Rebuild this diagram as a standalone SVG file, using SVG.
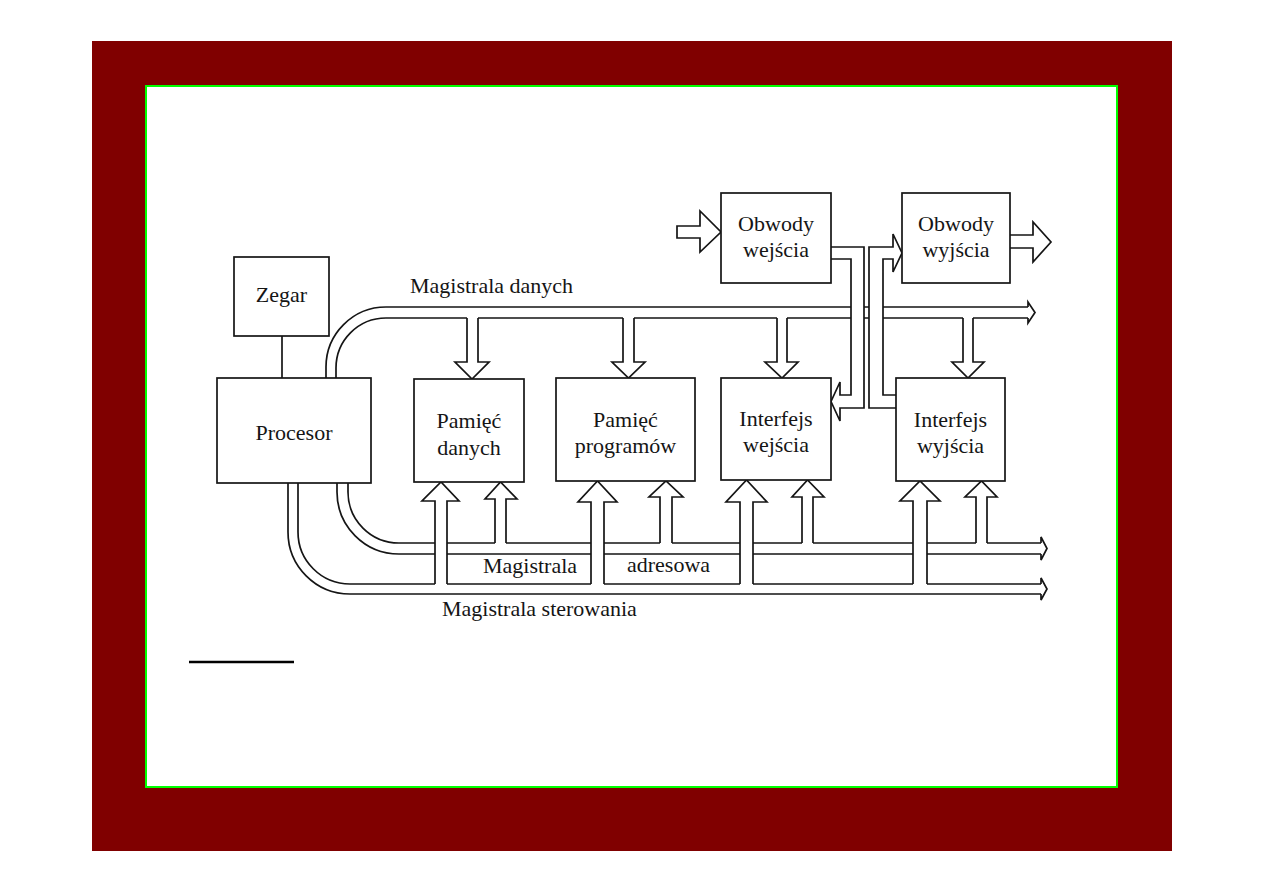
<svg xmlns="http://www.w3.org/2000/svg" width="1263" height="893" viewBox="0 0 1263 893">
<style>
.ln{fill:none;stroke:#151515;stroke-width:1.7;stroke-linejoin:miter}
.bx{fill:#fff;stroke:#151515;stroke-width:1.7}
.t{font-family:"Liberation Serif","Times New Roman",serif;font-size:22px;fill:#151515;text-anchor:middle}
.tl{font-family:"Liberation Serif","Times New Roman",serif;font-size:22px;fill:#151515}
</style>
<rect x="0" y="0" width="1263" height="893" fill="#fff"/>
<rect x="92" y="41" width="1080" height="810" fill="#800000"/>
<rect x="146" y="86" width="971" height="701" fill="#fff" stroke="#00ff00" stroke-width="2"/>
<line x1="189" y1="662" x2="294" y2="662" stroke="#000" stroke-width="2.5"/>

<g id="connectors">
  <!-- Zegar to Procesor -->
  <path class="ln" d="M282,336 L282,378"/>
  <!-- data bus -->
  <path class="ln" d="M326,378 L326,367 A60,60 0 0 1 386,307 L851,307 M864,307 L869,307 M883,307 L1028,307"/>
  <path class="ln" d="M336,378 L336,368 A50,50 0 0 1 386,318 L467,318 M478,318 L623,318 M634,318 L777,318 M787,318 L851,318 M864,318 L869,318 M883,318 L963,318 M973,318 L1028,318"/>
  <path class="ln" d="M1028,307 L1028,302 L1035,312.5 L1028,323 L1028,318"/>
  <!-- data bus drops -->
  <path class="ln" d="M467,318 L467,362 L455,362 L472,379 L489,362 L478,362 L478,318"/>
  <path class="ln" d="M623,318 L623,362 L612,362 L628.5,378 L645,362 L634,362 L634,318"/>
  <path class="ln" d="M777,318 L777,362 L765,362 L782,378 L798,362 L787,362 L787,318"/>
  <path class="ln" d="M963,318 L963,362 L952,362 L968,378 L984,362 L973,362 L973,318"/>
  <!-- bus A (from Procesor inner pipe) -->
  <path class="ln" d="M337,483 L337,492 A62,62 0 0 0 399,554 L435,554 M447,554 L591,554 M604,554 L740,554 M753,554 L913,554 M927,554 L1041,554"/>
  <path class="ln" d="M348,483 L348,492 A51,51 0 0 0 399,543 L435,543 M447,543 L495,543 M506,543 L591,543 M604,543 L660,543 M672,543 L740,543 M753,543 L802,543 M813,543 L913,543 M927,543 L976,543 M987,543 L1041,543"/>
  <path class="ln" d="M1041,543 L1041,537 L1047,548.5 L1041,560 L1041,554"/>
  <!-- bus B (from Procesor outer pipe) -->
  <path class="ln" d="M288,483 L288,532 A62,62 0 0 0 350,594 L1041,594"/>
  <path class="ln" d="M298,483 L298,532 A52,52 0 0 0 350,584 L435,584 M447,584 L591,584 M604,584 L740,584 M753,584 L913,584 M927,584 L1041,584"/>
  <path class="ln" d="M1041,584 L1041,578 L1047,589 L1041,600 L1041,594"/>
  <!-- big up arrows from bus B -->
  <path class="ln" d="M435,584 L435,501 L422,501 L441,482 L459,501 L447,501 L447,584"/>
  <path class="ln" d="M591,584 L591,502 L578,502 L597.5,481 L617,502 L604,502 L604,584"/>
  <path class="ln" d="M740,584 L740,502 L726,502 L746.5,480 L767,502 L753,502 L753,584"/>
  <path class="ln" d="M913,584 L913,501 L900,501 L920,481 L940,501 L927,501 L927,584"/>
  <!-- small up arrows from bus A -->
  <path class="ln" d="M495,543 L495,499 L485,499 L500.5,482 L517,499 L506,499 L506,543"/>
  <path class="ln" d="M660,543 L660,497 L649,497 L666,481 L683,497 L672,497 L672,543"/>
  <path class="ln" d="M802,543 L802,497 L792,497 L807.5,480 L824,497 L813,497 L813,543"/>
  <path class="ln" d="M976,543 L976,497 L965,497 L981.5,481 L997,497 L987,497 L987,543"/>
  <!-- Obwody wejscia -> Interfejs wejscia -->
  <path class="ln" d="M831,247 L864,247 L864,408 L840,408 L840,421 L831,401.5 L840,382 L840,395 L851,395 L851,259 L831,259"/>
  <!-- Interfejs wyjscia -> Obwody wyjscia -->
  <path class="ln" d="M896,408 L869,408 L869,247 L893,247 L893,234 L902,253 L893,272 L893,259 L883,259 L883,395 L896,395"/>
  <!-- input arrow -->
  <path class="ln" d="M700,226 L700,211 L721,232 L700,252 L700,238 L677,238 L677,226 Z"/>
  <!-- output arrow -->
  <path class="ln" d="M1010,235 L1033,235 L1033,222 L1051,242 L1033,262 L1033,248 L1010,248"/>
  <!-- bus labels -->
  <text class="tl" x="410" y="293">Magistrala danych</text>
  <text class="tl" x="483" y="573">Magistrala</text>
  <text class="tl" x="627" y="572">adresowa</text>
  <text class="tl" x="442" y="616">Magistrala sterowania</text>
</g>

<g id="zegar">
  <rect class="bx" x="234" y="257" width="95" height="79"/>
  <text class="t" x="281.5" y="302">Zegar</text>
</g>
<g id="procesor">
  <rect class="bx" x="217" y="378" width="154" height="105"/>
  <text class="t" x="294" y="440">Procesor</text>
</g>
<g id="pamiec-danych">
  <rect class="bx" x="414" y="379" width="110" height="103"/>
  <text class="t" x="469" y="428">Pamięć</text>
  <text class="t" x="469" y="455">danych</text>
</g>
<g id="pamiec-programow">
  <rect class="bx" x="556" y="378" width="139" height="103"/>
  <text class="t" x="625.5" y="427">Pamięć</text>
  <text class="t" x="625.5" y="453">programów</text>
</g>
<g id="interfejs-wejscia">
  <rect class="bx" x="721" y="378" width="110" height="102"/>
  <text class="t" x="776" y="426">Interfejs</text>
  <text class="t" x="776" y="452">wejścia</text>
</g>
<g id="interfejs-wyjscia">
  <rect class="bx" x="896" y="378" width="109" height="103"/>
  <text class="t" x="950.5" y="427">Interfejs</text>
  <text class="t" x="950.5" y="453">wyjścia</text>
</g>
<g id="obwody-wejscia">
  <rect class="bx" x="721" y="193" width="110" height="90"/>
  <text class="t" x="776" y="231">Obwody</text>
  <text class="t" x="776" y="257">wejścia</text>
</g>
<g id="obwody-wyjscia">
  <rect class="bx" x="902" y="193" width="108" height="90"/>
  <text class="t" x="956" y="231">Obwody</text>
  <text class="t" x="956" y="257">wyjścia</text>
</g>
</svg>
